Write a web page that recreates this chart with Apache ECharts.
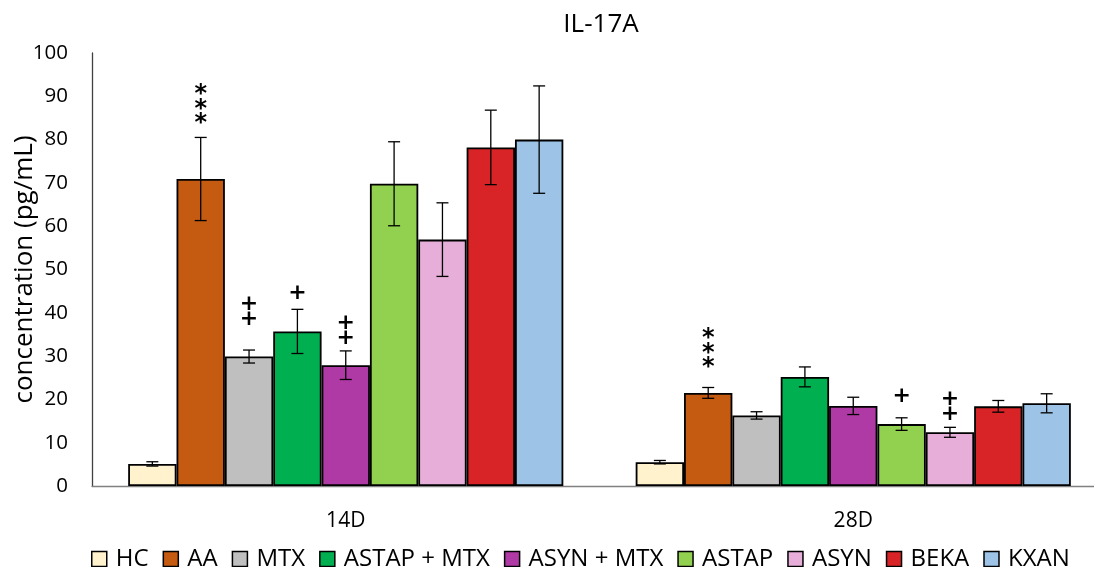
<!DOCTYPE html>
<html>
<head>
<meta charset="utf-8">
<script src="https://cdn.jsdelivr.net/npm/echarts@6/dist/echarts.min.js"></script>
<style>
html,body{margin:0;padding:0;background:#fff;}
#chart{width:1094px;height:567px;}
</style>
</head>
<body>
<div id="chart"></div>
<script>
// ---- data ----
const categories = ['14D', '28D'];
const groups = ['HC', 'AA', 'MTX', 'ASTAP + MTX', 'ASYN + MTX', 'ASTAP', 'ASYN', 'BEKA', 'KXAN'];
const colors = ['#FFF2CC', '#C55A11', '#BFBFBF', '#00B050', '#B03AA5', '#92D050', '#E6AED8', '#D92427', '#9DC3E6'];
const mean14D = [5.1, 70.9, 29.9, 35.7, 27.9, 69.8, 56.9, 78.2, 80.0];
const err14D  = [0.5, 9.6, 1.5, 5.1, 3.3, 9.7, 8.5, 8.6, 12.4];
const mean28D = [5.5, 21.5, 16.3, 25.2, 18.5, 14.3, 12.4, 18.4, 19.1];
const err28D  = [0.4, 1.25, 0.85, 2.3, 2.0, 1.45, 1.15, 1.35, 2.2];
const mark14D = ['', '***', '++', '+', '++', '', '', '', ''];
const mark28D = ['', '***', '', '', '', '+', '++', '', ''];
// value (y axis units) at which the lowest symbol of each mark sits
const markY14D = [null, 83.6, 38.6, 44.6, 34.2, null, null, null, null];
const markY28D = [null, 27.3, null, null, null, 20.8, 16.6, null, null];
const yTicks = { min: 0, max: 100, interval: 10 };

// ---- build ----
const BAR_W = 48.35;
const means = [mean14D, mean28D];
const errs = [err14D, err28D];
const marks = [mark14D, mark28D];
const markYs = [markY14D, markY28D];

const barSeries = groups.map((g, i) => ({
  name: g,
  type: 'bar',
  barWidth: BAR_W,
  barGap: '0%',
  data: categories.map((c, k) => means[k][i]),
  itemStyle: { color: colors[i], borderColor: '#000', borderWidth: 1.8 },
  emphasis: { disabled: true }
}));

const errData = [];
categories.forEach((c, k) => {
  groups.forEach((g, i) => {
    errData.push([k, i, means[k][i], errs[k][i], marks[k][i], markYs[k][i]]);
  });
});

const errSeries = {
  type: 'custom',
  name: 'err',
  data: errData,
  encode: { x: 0, y: 2 },
  z: 10,
  clip: false,
  silent: true,
  renderItem: function (params, api) {
    const k = api.value(0), i = api.value(1), m = api.value(2), e = api.value(3);
    const item = errData[params.dataIndex];
    const off = (i - (groups.length - 1) / 2) * BAR_W;
    const top = api.coord([k, m + e]);
    const bot = api.coord([k, m - e]);
    const x = top[0] + off;
    const cap = 6;
    const st = { stroke: '#000', lineWidth: 1.3 };
    const children = [
      { type: 'line', shape: { x1: x, y1: top[1], x2: x, y2: bot[1] }, style: st },
      { type: 'line', shape: { x1: x - cap, y1: top[1], x2: x + cap, y2: top[1] }, style: st },
      { type: 'line', shape: { x1: x - cap, y1: bot[1], x2: x + cap, y2: bot[1] }, style: st }
    ];
    const txt = item[4];
    if (txt) {
      const base = api.coord([k, item[5]])[1];
      const n = txt.length;
      for (let j = 0; j < n; j++) {
        children.push({
          type: 'text',
          style: {
            x: x, y: base - (n - 1 - j) * 14.5,
            text: txt[j],
            fill: '#000',
            font: txt[j] === '*' ? 'bold 24px "DejaVu Sans"' : 'bold 22px "DejaVu Sans"',
            align: 'center',
            verticalAlign: 'middle'
          }
        });
      }
    }
    return { type: 'group', children: children };
  }
};

const FONT = '"Open Sans"';
const chart = echarts.init(document.getElementById('chart'), null, { renderer: 'canvas' });
chart.setOption({
  animation: false,
  backgroundColor: '#fff',
  title: {
    text: 'IL-17A',
    left: 596, top: 7,
    textAlign: 'center',
    textStyle: { fontFamily: FONT, fontSize: 26, fontWeight: 'normal', color: '#000' }
  },
  legend: {
    data: groups,
    left: 86,
    top: 542,
    itemWidth: 15,
    itemHeight: 15,
    itemGap: 14,
    icon: 'rect',
    itemStyle: { borderColor: '#000', borderWidth: 1.5 },
    textStyle: { fontFamily: FONT, fontSize: 24, color: '#000', padding: [0, 0, 0, 4] }
  },
  grid: { left: 92, top: 53, width: 1015, height: 433, containLabel: false, outerBoundsMode: 'none' },
  xAxis: {
    type: 'category',
    data: categories,
    axisLine: { lineStyle: { color: '#808080', width: 1.3 } },
    axisTick: { show: false },
    axisLabel: { fontFamily: FONT, fontSize: 21, color: '#000', margin: 25 },
    splitLine: { show: false }
  },
  yAxis: {
    type: 'value',
    min: yTicks.min, max: yTicks.max, interval: yTicks.interval,
    name: 'concentration (pg/mL)',
    nameLocation: 'middle',
    nameGap: 54,
    nameMoveOverlap: false,
    nameTextStyle: { fontFamily: FONT, fontSize: 26, color: '#000' },
    axisLine: { show: true, lineStyle: { color: '#404040', width: 1.3 } },
    axisTick: { show: false },
    axisLabel: { fontFamily: FONT, fontSize: 20.5, color: '#000', margin: 24 },
    splitLine: { show: false }
  },
  series: barSeries.concat([errSeries])
});
</script>
</body>
</html>
